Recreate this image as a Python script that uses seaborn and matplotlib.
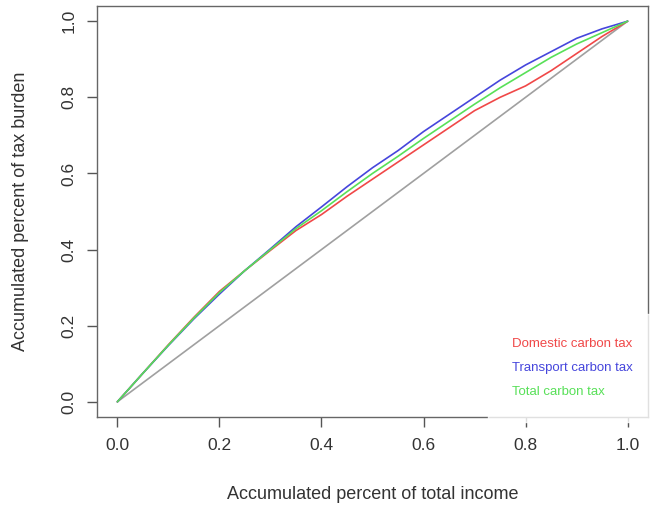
import matplotlib
matplotlib.use("Agg")
import matplotlib.pyplot as plt
import seaborn as sns
import pandas as pd
import numpy as np

income_share = [0.0, 0.05, 0.10, 0.15, 0.20, 0.25, 0.30, 0.35, 0.40, 0.45, 0.50,
                0.55, 0.60, 0.65, 0.70, 0.75, 0.80, 0.85, 0.90, 0.95, 1.0]
domestic = [0.0, 0.075, 0.150, 0.222, 0.290, 0.345, 0.398, 0.450, 0.492, 0.540, 0.585,
            0.630, 0.675, 0.720, 0.765, 0.800, 0.830, 0.870, 0.915, 0.960, 1.0]
transport = [0.0, 0.075, 0.148, 0.218, 0.283, 0.345, 0.402, 0.460, 0.512, 0.565, 0.615,
             0.660, 0.710, 0.755, 0.800, 0.845, 0.885, 0.920, 0.955, 0.980, 1.0]
total = [0.0, 0.075, 0.149, 0.220, 0.287, 0.345, 0.400, 0.455, 0.502, 0.552, 0.600,
         0.645, 0.692, 0.737, 0.782, 0.825, 0.865, 0.905, 0.940, 0.970, 1.0]
series_names = ["Domestic carbon tax", "Transport carbon tax", "Total carbon tax"]
series_colors = ["#f04848", "#4646dc", "#58e058"]
ticks = [0.0, 0.2, 0.4, 0.6, 0.8, 1.0]

sns.set_style("white")
plt.rcParams["font.family"] = ["Liberation Sans", "DejaVu Sans"]

df = pd.DataFrame({
    "x": income_share * 3,
    "y": domestic + transport + total,
    "series": [s for s in series_names for _ in income_share],
})

fig = plt.figure(figsize=(6.5, 5.08), dpi=100)
ax = fig.add_axes([97 / 650, 91 / 508, 551 / 650, 411 / 508])

ax.plot([0, 1], [0, 1], color="#a0a0a0", lw=1.2, zorder=1)
sns.lineplot(data=df, x="x", y="y", hue="series", palette=series_colors,
             hue_order=series_names, ax=ax, lw=1.2, legend=False, estimator=None)

ax.set_xlim(-0.04, 1.04)
ax.set_ylim(-0.04, 1.04)
ax.set_xticks(ticks)
ax.set_yticks(ticks)
ax.set_xticklabels([f"{t:.1f}" for t in ticks])
ax.set_yticklabels([f"{t:.1f}" for t in ticks], rotation=90, va="center")
ax.tick_params(axis="both", direction="out", length=7, width=1, color="#555555",
               labelsize=12.5, labelcolor="#333333", pad=8, bottom=True, left=True)
for sp in ax.spines.values():
    sp.set_color("#666666")
    sp.set_linewidth(1)
ax.set_xlabel("Accumulated percent of total income", fontsize=13, color="#333333", labelpad=24)
ax.set_ylabel("Accumulated percent of tax burden", fontsize=13, color="#333333", labelpad=23)

handles = [plt.Line2D([], [], color="none") for _ in series_names]
leg = ax.legend(handles, series_names, loc="lower right", bbox_to_anchor=(1.015, -0.012),
                frameon=True, fontsize=9.5, handlelength=0, handletextpad=0,
                labelcolor=series_colors, labelspacing=0.9, borderpad=1.8,
                fancybox=False, borderaxespad=0)
leg.get_frame().set_facecolor("white")
leg.get_frame().set_edgecolor("white")
leg.set_zorder(10)

fig.savefig("out.png", dpi=100)
